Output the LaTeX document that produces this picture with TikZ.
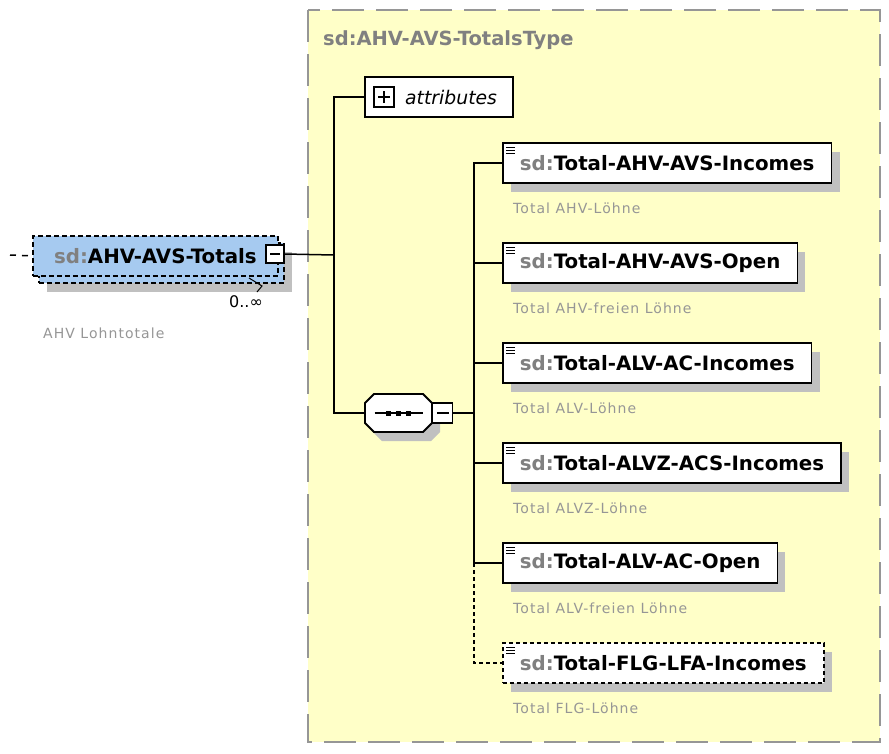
\documentclass[tikz,border=0pt]{standalone}
\usepackage{fontspec}
\setmainfont{DejaVu Sans}
\newfontfamily\descfont[LetterSpace=7.5]{DejaVu Sans}
\usetikzlibrary{positioning, calc, shadows}

\definecolor{typefill}{RGB}{255,255,200}
\definecolor{typeline}{RGB}{150,150,150}
\definecolor{mainfill}{RGB}{166,202,240}
\definecolor{shadowgray}{RGB}{192,192,192}
\definecolor{prefixgray}{RGB}{128,128,128}
\definecolor{descgray}{RGB}{150,150,150}

\newcommand{\sdname}[1]{{\color{prefixgray}sd:}#1}

\begin{document}
\begin{tikzpicture}[
        x=1pt, y=-1pt,
        every node/.style={inner sep=0, font=\fontsize{19.8}{23}\selectfont\bfseries},
        wire/.style={line width=1.5pt},
        boxshadow/.style={drop shadow={shadow xshift=8pt, shadow yshift=-9pt, opacity=1, fill=shadowgray}},
        elem/.style={draw, line width=1.8pt, fill=white, minimum height=40pt, inner xsep=17pt, anchor=west, boxshadow},
        optelem/.style={elem, dash pattern=on 4pt off 3pt},
        mainbox/.style={draw, line width=1.8pt, dash pattern=on 5pt off 3pt, fill=mainfill, minimum width=245pt, minimum height=40pt, anchor=north west},
        desc/.style={anchor=west, text=descgray, font=\descfont\fontsize{14}{16}\selectfont},
        togglebox/.style={draw, line width=1.2pt, fill=white, minimum size=20pt},
    ]

    \useasboundingbox (0,0) rectangle (889,753);

    % Define complex type frame.
    \draw[fill=typefill, draw=typeline, line width=2pt, dash pattern=on 32pt off 12pt] (308,10) rectangle (880,742);
    \node[anchor=west, text=prefixgray, font=\fontsize{19.5}{22}\selectfont\bfseries] (typename) at (323,40) {sd:AHV-AVS-TotalsType};

    % Define repeated main element.
    \node[mainbox, boxshadow] (mainback) at (38,242) {};
    \node[mainbox] (main) at (32,235) {\sdname{AHV-AVS-Totals}};
    \node[togglebox, minimum size=18pt] (mainm) at (275,254) {};
    \draw[line width=1.2pt] ([xshift=-5pt]mainm.center) -- ([xshift=5pt]mainm.center);
    \draw[line width=1pt] (249,278) -- (262,286) -- (257,292);
    \node[font=\fontsize{16}{19}\selectfont] (occurs) at (246,302) {0..∞};
    \node[desc] (maindesc) at (43,333) {AHV Lohntotale};

    % Define attributes and sequence.
    \node[draw, line width=1.5pt, fill=white, minimum width=148pt, minimum height=40pt, anchor=west] (attr) at (364,97) {};
    \node[togglebox] (attrp) at (384,97) {};
    \draw[line width=1.2pt] ([xshift=-6pt]attrp.center) -- ([xshift=6pt]attrp.center);
    \draw[line width=1.2pt] ([yshift=-6pt]attrp.center) -- ([yshift=6pt]attrp.center);
    \node[anchor=west, font=\fontsize{18.8}{22}\selectfont\itshape] (attrtext) at (405,97) {attributes};

    \node[minimum width=67pt, minimum height=38pt] (seq) at (398.5,413) {};
    \begin{scope}[shift={($(seq.center)+(8,9)$)}]
        \fill[shadowgray] (-24.5,-19) -- (24.5,-19) -- (33.5,-10) -- (33.5,10) -- (24.5,19) -- (-24.5,19) -- (-33.5,10) -- (-33.5,-10) -- cycle;
    \end{scope}
    \begin{scope}[shift={(seq.center)}]
        \draw[fill=white, line width=1.8pt] (-24.5,-19) -- (24.5,-19) -- (33.5,-10) -- (33.5,10) -- (24.5,19) -- (-24.5,19) -- (-33.5,10) -- (-33.5,-10) -- cycle;
        \draw[line width=1.5pt] (-24,0) -- (24,0);
        \foreach \d in {-10,0,10}
            \fill (\d-2.5,-2.5) rectangle (\d+2.5,2.5);
    \end{scope}
    \node[togglebox, anchor=west] (seqm) at (seq.east) {};
    \draw[line width=1.2pt] ([xshift=-6pt]seqm.center) -- ([xshift=6pt]seqm.center);

    % Define child elements.
    \foreach \i/\ename/\edesc in {1/AHV-AVS-Incomes/Total AHV-Löhne,
                                  2/AHV-AVS-Open/Total AHV-freien Löhne,
                                  3/ALV-AC-Incomes/Total ALV-Löhne,
                                  4/ALVZ-ACS-Incomes/Total ALVZ-Löhne,
                                  5/ALV-AC-Open/Total ALV-freien Löhne}
    {
        \node[elem] (e\i) at (502, 63+100*\i) {\sdname{Total-\ename}};
        \node[desc] (d\i) at (513, 108+100*\i) {\edesc};
    }
    \node[optelem] (e6) at (502,663) {\sdname{Total-FLG-LFA-Incomes}};
    \node[desc] (d6) at (513,708) {Total FLG-Löhne};

    \foreach \i in {1,...,6}
    \foreach \k in {5,8,11}
        \draw[line width=1pt] ($(e\i.north west)+(4,\k)$) -- ++(9,0);

    % Define connectors.
    \coordinate (in) at (10,255);
    \coordinate (j1) at (334,255);
    \coordinate (j2) at (474,413);

    \draw[wire, dash pattern=on 6pt off 6pt] (in) -- (main.west);
    \draw[wire] (mainm.east) -- (j1);
    \draw[wire] (attr.west) -| (j1) |- (seq.west);
    \draw[wire] (seqm.east) -- (j2);
    \draw[wire] (e1.west) -| (j2) |- (e5.west);
    \foreach \i in {2,3,4}
        \draw[wire] (e\i.west) -- (e\i.west -| j2);
    \draw[wire, dash pattern=on 4pt off 3pt] (e5.west -| j2) |- (e6.west);
\end{tikzpicture}
\end{document}
